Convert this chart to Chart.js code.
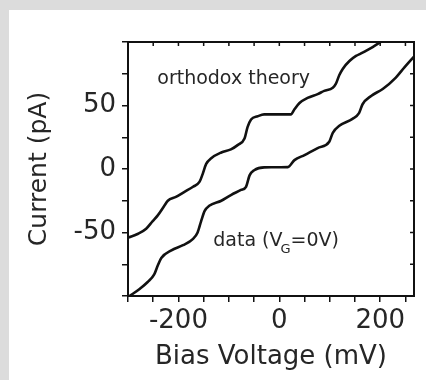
<!DOCTYPE html>
<html>
<head>
<meta charset="utf-8">
<script src="https://cdn.jsdelivr.net/npm/chart.js@4/dist/chart.umd.min.js"></script>
<style>
  html, body { margin: 0; padding: 0; background: #dcdcdc; }
  #panel { position: absolute; left: 9px; top: 10px; width: 417px; height: 370px; background: #fff; }
  canvas { display: block; }
</style>
</head>
<body>
<div id="panel"><canvas id="c" width="417" height="370"></canvas></div>
<script>
// orthodox theory curve (bias mV, current pA)
const theoryV = [-300, -280, -264, -251, -241, -228, -221, -205, -188, -171, -158, -152, -145, -135, -115, -96, -82, -69, -63, -56, -43, -30, 23, 30, 40, 56, 76, 89, 106, 112, 119, 126, 139, 152, 162, 185, 201];
const theoryI = [-54, -51, -47, -41, -36.5, -29, -25, -22, -18, -14, -10, -4, 4, 8.5, 13, 15.5, 19, 24, 33, 39, 41.5, 43, 43, 47, 52, 56, 59, 61.5, 64, 67, 74, 79, 85, 89, 91, 96, 100];

// measured data, V_G = 0V
const dataV = [-297, -277, -261, -248, -241, -234, -214, -191, -171, -162, -155, -148, -139, -115, -96, -76, -66, -59, -50, -30, 17, 30, 50, 76, 99, 106, 119, 145, 158, 165, 182, 205, 231, 248, 267];
const dataI = [-100, -94.5, -89, -83, -76, -70, -64, -60, -55, -50, -41, -33, -29, -25, -20.5, -16.5, -14, -5, -1, 1.3, 1.5, 7, 11, 16.5, 21.5, 28.5, 34, 39.5, 44, 51, 57.5, 63, 72, 80, 88.5];

const xLabels = [-200, 0, 200];
const yLabels = [-50, 0, 50];

const ink = '#111';
const textCol = '#262626';
const fam = '"DejaVu Sans", sans-serif';

const pts = (xs, ys) => xs.map((x, i) => ({ x: x, y: ys[i] }));

const frame = {
  id: 'frame',
  afterDraw(chart) {
    const { ctx, chartArea: a, scales: { x, y } } = chart;
    ctx.save();
    ctx.strokeStyle = ink;
    ctx.lineWidth = 2;
    ctx.strokeRect(a.left, a.top, a.right - a.left, a.bottom - a.top);
    // inner ticks on the top and right edges
    ctx.lineWidth = 1.5;
    ctx.beginPath();
    y.ticks.forEach(t => {
      const py = y.getPixelForValue(t.value);
      ctx.moveTo(a.right, py); ctx.lineTo(a.right - 4, py);
    });
    x.ticks.forEach(t => {
      const px = x.getPixelForValue(t.value);
      ctx.moveTo(px, a.top); ctx.lineTo(px, a.top + 4);
    });
    ctx.stroke();

    // labels inside the plot
    ctx.fillStyle = textCol;
    ctx.textBaseline = 'alphabetic';
    ctx.textAlign = 'left';
    ctx.font = '19px ' + fam;
    ctx.fillText('orthodox theory', x.getPixelForValue(-242), y.getPixelForValue(67));

    let px = x.getPixelForValue(-131);
    const py = y.getPixelForValue(-60.3);
    ctx.fillText('data (V', px, py);
    px += ctx.measureText('data (V').width - 2;
    ctx.font = '13px ' + fam;
    ctx.fillText('G', px, py + 7);
    px += ctx.measureText('G').width;
    ctx.font = '19px ' + fam;
    ctx.fillText('=0V)', px, py);
    ctx.restore();
  }
};

new Chart(document.getElementById('c'), {
  type: 'line',
  data: {
    datasets: [
      { label: 'orthodox theory', data: pts(theoryV, theoryI) },
      { label: 'data', data: pts(dataV, dataI) }
    ]
  },
  options: {
    responsive: false,
    animation: false,
    devicePixelRatio: 1,
    layout: { padding: { left: 0, top: 32, right: 12, bottom: 0 } },
    elements: {
      line: { borderColor: ink, borderWidth: 2.6, cubicInterpolationMode: 'monotone', fill: false },
      point: { radius: 0 }
    },
    plugins: { legend: { display: false }, tooltip: { enabled: false } },
    scales: {
      x: {
        type: 'linear',
        min: -300,
        max: 267,
        afterFit: s => { s.height = 84; },
        grid: { drawOnChartArea: false, drawTicks: true, tickLength: 6, tickColor: ink, lineWidth: 1.5 },
        border: { display: true, color: ink, width: 2 },
        ticks: {
          stepSize: 50,
          includeBounds: false,
          autoSkip: false,
          maxRotation: 0,
          padding: 4,
          color: textCol,
          font: { family: fam, size: 26 },
          callback: v => xLabels.includes(v) ? String(v) : ''
        },
        title: {
          display: true,
          text: 'Bias Voltage (mV)',
          color: textCol,
          font: { family: fam, size: 26 },
          padding: { top: 0, bottom: 7 }
        }
      },
      y: {
        type: 'linear',
        min: -100,
        max: 100,
        afterFit: s => { s.width = 119; },
        grid: { drawOnChartArea: false, drawTicks: true, tickLength: 6, tickColor: ink, lineWidth: 1.5 },
        border: { display: true, color: ink, width: 2 },
        ticks: {
          stepSize: 25,
          includeBounds: false,
          autoSkip: false,
          padding: 6,
          color: textCol,
          font: { family: fam, size: 26 },
          callback: v => yLabels.includes(v) ? String(v) : ''
        },
        title: {
          display: true,
          text: 'Current (pA)',
          color: textCol,
          font: { family: fam, size: 25 },
          padding: { top: 15, bottom: 0 }
        }
      }
    }
  },
  plugins: [frame]
});
</script>
</body>
</html>
